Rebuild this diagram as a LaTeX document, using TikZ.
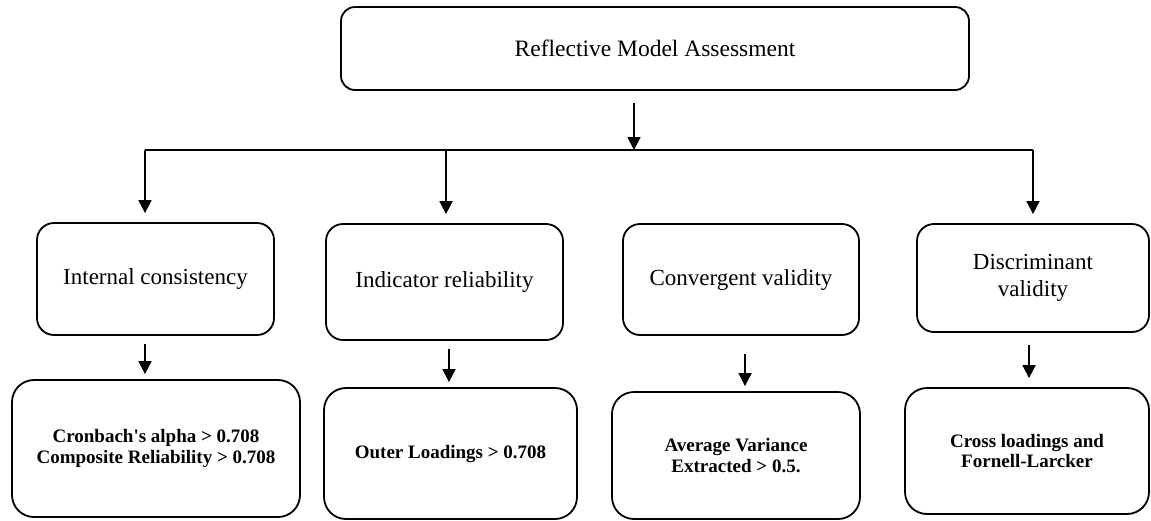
\documentclass[tikz,border=0pt]{standalone}
\usepackage{fontspec}
\setmainfont{Liberation Serif}
\usetikzlibrary{arrows.meta}

\tikzset{
  box/.style={draw=black, line width=1.8pt, fill=white, inner sep=0pt, align=center},
  headbox/.style={box, rounded corners=14pt, font=\fontsize{23.5}{26}\selectfont},
  stagebox/.style={box, rounded corners=17pt, font=\fontsize{23}{27}\selectfont},
  rulebox/.style={box, rounded corners=22pt, font=\fontsize{19}{20.5}\selectfont\bfseries},
  link/.style={line width=1.8pt, draw=black},
  arr/.style={link, -{Triangle[width=13pt,length=13pt]}}
}

\begin{document}
\begin{tikzpicture}[x=1pt, y=1pt]
  \useasboundingbox (0,0) rectangle (1151,-520);

  % top level
  \node[headbox, minimum width=628pt, minimum height=83pt] (top) at (655,-48.5)
    {Reflective Model Assessment};

  % assessment stages
  \node[stagebox, minimum width=237pt, minimum height=112pt] (mid1) at (155.5,-279)
    {Internal consistency};
  \node[stagebox, minimum width=237pt, minimum height=116pt] (mid2) at (444.5,-282)
    {Indicator reliability};
  \node[stagebox, minimum width=236pt, minimum height=111pt] (mid3) at (741,-279.5)
    {Convergent validity};
  \node[stagebox, minimum width=232pt, minimum height=108pt] (mid4) at (1033,-278)
    {Discriminant\\validity};

  % criteria
  \node[rulebox, minimum width=288pt, minimum height=137pt] (bot1) at (156,-448.5)
    {Cronbach\textquotesingle s alpha > 0.708\\Composite Reliability > 0.708};
  \node[rulebox, minimum width=253pt, minimum height=131pt] (bot2) at (450.5,-453.5)
    {Outer Loadings > 0.708};
  \node[rulebox, minimum width=248pt, minimum height=127pt] (bot3) at (736,-455.5)
    {Average Variance\\Extracted > 0.5.};
  \node[rulebox, minimum width=244pt, minimum height=126pt] (bot4) at (1027,-451)
    {Cross loadings and\\Fornell-Larcker};

  % distribution bar
  \coordinate (hub) at (634,-150);
  \coordinate (b1) at (145,-150);
  \coordinate (b2) at (446,-150);
  \coordinate (b4) at (1033,-150);

  \draw[arr, shorten <=12pt] (top.south -| hub) -- (hub);
  \draw[link] (b1) -- (b4);
  \draw[arr, shorten >=9pt] (b1) -- (b1 |- mid1.north);
  \draw[arr, shorten >=9pt] (b2) -- (b2 |- mid2.north);
  \draw[arr, shorten >=9pt] (b4) -- (b4 |- mid4.north);

  % stage to criterion arrows
  \coordinate (x1) at (145,0);
  \coordinate (x2) at (449,0);
  \coordinate (x3) at (745,0);
  \coordinate (x4) at (1029,0);
  \draw[arr, shorten <=8pt, shorten >=5pt] (mid1.south -| x1) -- (bot1.north -| x1);
  \draw[arr, shorten <=8pt, shorten >=5pt] (mid2.south -| x2) -- (bot2.north -| x2);
  \draw[arr, shorten <=18pt, shorten >=5pt] (mid3.south -| x3) -- (bot3.north -| x3);
  \draw[arr, shorten <=12pt, shorten >=9pt] (mid4.south -| x4) -- (bot4.north -| x4);
\end{tikzpicture}
\end{document}
